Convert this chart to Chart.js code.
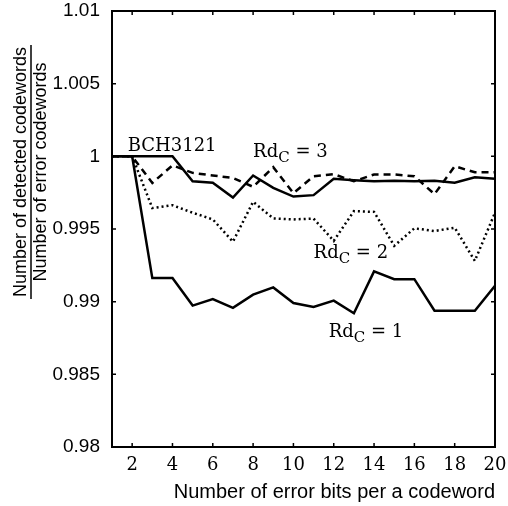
<!DOCTYPE html>
<html>
<head>
<meta charset="utf-8">
<script src="https://cdn.jsdelivr.net/npm/chart.js@4.4.1/dist/chart.umd.min.js"></script>
<style>
  html, body { margin: 0; padding: 0; background: #fff; }
</style>
</head>
<body>
<canvas id="grafico" width="508" height="506"></canvas>
<script>
// ======== Dados ========
const bitsErro = [1, 2, 3, 4, 5, 6, 7, 8, 9, 10, 11, 12, 13, 14, 15, 16, 17, 18, 19, 20];

const bch3121 = [1, 1, 1, 1, 0.99829, 0.99818, 0.99716, 0.99868, 0.99783, 0.99723,
  0.99733, 0.99846, 0.99836, 0.99829, 0.99832, 0.99829, 0.99832, 0.99818, 0.99856, 0.99846];
const rdc3 = [1, 1, 0.99817, 0.99938, 0.99886, 0.99868, 0.99851, 0.9979, 0.99925, 0.99747,
  0.99863, 0.99877, 0.99829, 0.99875, 0.99875, 0.99863, 0.9974, 0.99932, 0.9989, 0.9989];
const rdc2 = [1, 1, 0.99644, 0.99664, 0.99612, 0.99566, 0.99413, 0.99687, 0.99573, 0.99566,
  0.99572, 0.99418, 0.99623, 0.99618, 0.99384, 0.99505, 0.99486, 0.99509, 0.99281, 0.99612];
const rdc1 = [1, 1, 0.99162, 0.99162, 0.98973, 0.99018, 0.98957, 0.99048, 0.99098, 0.98991,
  0.98964, 0.99007, 0.9892, 0.99208, 0.99155, 0.99155, 0.98938, 0.98938, 0.98938, 0.9911];

// Marcas dos eixos
const ticksX = [2, 4, 6, 8, 10, 12, 14, 16, 18, 20];
const ticksY = [0.98, 0.985, 0.99, 0.995, 1, 1.005, 1.01];
const rotulosY = ['0.98', '0.985', '0.99', '0.995', '1', '1.005', '1.01'];

// Textos dentro do gráfico (posição em unidades dos dados)
const anotacoes = [
  { x: 1.78, y: 1.0004, texto: 'BCH3121' },
  { x: 8.0, y: 0.99995, texto: 'Rd', sub: 'C', resto: ' = 3' },
  { x: 11.0, y: 0.9930, texto: 'Rd', sub: 'C', resto: ' = 2' },
  { x: 11.75, y: 0.9876, texto: 'Rd', sub: 'C', resto: ' = 1' },
];

const tituloNumerador = 'Number of detected codewords';
const tituloDenominador = 'Number of error codewords';
const tituloX = 'Number of error bits per a codeword';

const serifa = '"DejaVu Serif", "Liberation Serif", serif';
const semSerifa = '"Liberation Sans", Arial, sans-serif';

function pontos(serie) {
  return bitsErro.map((x, i) => ({ x: x, y: serie[i] }));
}

// ======== Plugin: moldura, marcas, título em fração e anotações ========
const molduraPlugin = {
  id: 'moldura',
  afterDraw(chart) {
    const ctx = chart.ctx;
    const area = chart.chartArea;
    const sx = chart.scales.x;
    const sy = chart.scales.y;
    ctx.save();
    ctx.strokeStyle = '#000';
    ctx.lineWidth = 2;
    ctx.strokeRect(area.left, area.top, area.right - area.left, area.bottom - area.top);

    // marcas internas
    ctx.lineWidth = 1.5;
    ctx.beginPath();
    ticksX.forEach((v) => {
      const px = sx.getPixelForValue(v);
      if (v < 20) {
        ctx.moveTo(px, area.bottom);
        ctx.lineTo(px, area.bottom - 4);
        ctx.moveTo(px, area.top);
        ctx.lineTo(px, area.top + 4);
      }
    });
    ticksY.forEach((v) => {
      const py = sy.getPixelForValue(v);
      if (v > 0.98 && v < 1.01) {
        ctx.moveTo(area.left, py);
        ctx.lineTo(area.left + 4, py);
        ctx.moveTo(area.right, py);
        ctx.lineTo(area.right - 4, py);
      }
    });
    ctx.stroke();

    // título do eixo Y como fração
    ctx.fillStyle = '#000';
    ctx.font = '18px ' + semSerifa;
    ctx.textAlign = 'center';
    ctx.textBaseline = 'middle';
    ctx.translate(31, 172);
    ctx.rotate(-Math.PI / 2);
    ctx.fillText(tituloNumerador, 0, -10);
    ctx.fillText(tituloDenominador, 0, 10);
    const larg = ctx.measureText(tituloNumerador).width;
    ctx.lineWidth = 1.5;
    ctx.beginPath();
    ctx.moveTo(-larg / 2 - 2, 0);
    ctx.lineTo(larg / 2 + 2, 0);
    ctx.stroke();
    ctx.restore();

    // anotações
    ctx.save();
    ctx.fillStyle = '#000';
    ctx.textBaseline = 'alphabetic';
    ctx.textAlign = 'left';
    anotacoes.forEach((a) => {
      let px = sx.getPixelForValue(a.x);
      const py = sy.getPixelForValue(a.y);
      if (!a.sub) {
        ctx.font = '18px ' + serifa;
        ctx.fillText(a.texto, px, py);
        return;
      }
      ctx.font = '18px ' + serifa;
      ctx.fillText(a.texto, px, py);
      px += ctx.measureText(a.texto).width;
      ctx.font = '15px ' + serifa;
      ctx.fillText(a.sub, px, py + 5);
      px += ctx.measureText(a.sub).width;
      ctx.font = '18px ' + serifa;
      ctx.fillText(a.resto, px, py);
    });
    ctx.restore();
  },
};

// ======== Gráfico ========
const estiloLinha = { borderColor: '#000', borderWidth: 2.5, pointRadius: 0, tension: 0, fill: false };

new Chart(document.getElementById('grafico').getContext('2d'), {
  type: 'line',
  data: {
    datasets: [
      { label: 'BCH3121', data: pontos(bch3121), ...estiloLinha },
      { label: 'RdC = 3', data: pontos(rdc3), ...estiloLinha, borderDash: [7, 5] },
      { label: 'RdC = 2', data: pontos(rdc2), ...estiloLinha, borderDash: [2, 3] },
      { label: 'RdC = 1', data: pontos(rdc1), ...estiloLinha },
    ],
  },
  options: {
    responsive: false,
    animation: false,
    devicePixelRatio: 1,
    layout: { padding: { left: 0, top: 11, right: 13, bottom: 0 } },
    plugins: { legend: { display: false }, tooltip: { enabled: false } },
    scales: {
      x: {
        type: 'linear',
        min: 1,
        max: 20,
        grid: { display: false, drawTicks: false },
        border: { display: false },
        afterBuildTicks: (s) => { s.ticks = ticksX.map((v) => ({ value: v })); },
        afterFit: (s) => {
          s.height = 59;
          s.paddingLeft = 0;
          s.paddingRight = 0;
        },
        ticks: {
          padding: 8,
          color: '#000',
          maxRotation: 0,
          autoSkip: false,
          font: { family: serifa, size: 18 },
        },
        title: {
          display: true,
          text: tituloX,
          align: 'end',
          color: '#000',
          padding: { top: 2, bottom: 2 },
          font: { family: semSerifa, size: 20 },
        },
      },
      y: {
        min: 0.98,
        max: 1.01,
        grid: { display: false, drawTicks: false },
        border: { display: false },
        afterBuildTicks: (s) => { s.ticks = ticksY.map((v) => ({ value: v })); },
        afterFit: (s) => {
          s.width = 112;
          s.paddingTop = 0;
          s.paddingBottom = 0;
        },
        ticks: {
          padding: 12,
          color: '#000',
          autoSkip: false,
          font: { family: semSerifa, size: 19 },
          callback: (v) => rotulosY[ticksY.indexOf(v)],
        },
      },
    },
  },
  plugins: [molduraPlugin],
});
</script>
</body>
</html>
